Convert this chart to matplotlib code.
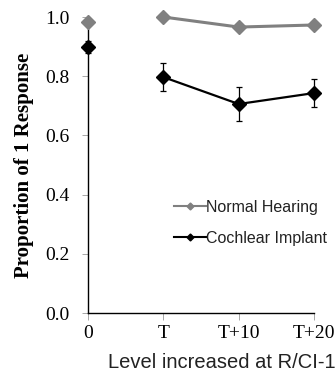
import matplotlib.pyplot as plt
import numpy as np
from matplotlib.lines import Line2D

# x positions / categories
levels = ["0", "T", "T+10", "T+20"]

# Normal hearing (no visible error bars)
nh_vals = [0.983, 1.0, 0.966, 0.973]

# Cochlear implant
ci_vals = [0.899, 0.797, 0.706, 0.743]
ci_err = [0.02, 0.047, 0.058, 0.047]

gray = "#808080"

fig = plt.figure(figsize=(3.36, 3.83), dpi=100)
ax = fig.add_axes([88 / 336, 1 - 313 / 383, 226 / 336, 296 / 383])

x = np.arange(len(levels))

# point at "0" stands alone, the rest are joined
ax.plot(x[1:], nh_vals[1:], color=gray, lw=2.2, marker="D", ms=7.5,
        mec=gray, mfc=gray, clip_on=False, zorder=3)
ax.plot(x[:1], nh_vals[:1], color=gray, ls="none", marker="D", ms=7.5,
        clip_on=False, zorder=3)

ax.errorbar(x[1:], ci_vals[1:], yerr=ci_err[1:], color="black", lw=1.6,
            marker="D", ms=7.5, capsize=2.5, elinewidth=0.9, capthick=0.9,
            clip_on=False, zorder=4)
ax.errorbar(x[:1], ci_vals[:1], yerr=ci_err[:1], color="black", ls="none",
            marker="D", ms=7.5, capsize=2.5, elinewidth=0.9, capthick=0.9,
            clip_on=False, zorder=4)

ax.set_xlim(0, 3)
ax.set_ylim(0, 1.0)
ax.set_xticks(x)
ax.set_xticklabels(levels, family="Liberation Serif", fontsize=14)
ax.set_yticks(np.arange(0, 1.01, 0.2))
ax.set_yticklabels([f"{v:.1f}" for v in np.arange(0, 1.01, 0.2)],
                   family="Liberation Serif", fontsize=14)
ax.tick_params(axis="x", direction="out", length=5, width=0.6, pad=4, color="#999999")
ax.tick_params(axis="y", direction="out", length=4, width=0.6, pad=9, color="#999999")

for s in ["top", "right"]:
    ax.spines[s].set_visible(False)
ax.spines["left"].set_linewidth(1.0)
ax.spines["bottom"].set_linewidth(1.0)

fig.text(24 / 336, 1 - 165 / 383, "Proportion of 1 Response", rotation=90,
         ha="center", va="center", family="Liberation Serif",
         fontweight="bold", fontsize=15)
fig.text(108 / 336, 1 - 363 / 383, "Level increased at R/CI-1",
         ha="left", va="center", family="Liberation Sans", fontsize=14.5,
         color="#222222")

# legend: short line with small diamond
handles = [
    Line2D([], [], color=gray, lw=1.5, marker="D", ms=3.5),
    Line2D([], [], color="black", lw=1.5, marker="D", ms=3.5),
]
leg = ax.legend(handles, ["Normal Hearing", "Cochlear Implant"],
                loc="upper left", bbox_to_anchor=(174 / 336, 1 - 200 / 383),
                bbox_transform=fig.transFigure, frameon=False,
                prop={"family": "Liberation Sans", "size": 11.5},
                handlelength=2.0, handletextpad=0.0, labelspacing=1.0,
                borderaxespad=0, borderpad=0)
for t in leg.get_texts():
    t.set_color("#222222")

fig.savefig("out.png", dpi=100)
